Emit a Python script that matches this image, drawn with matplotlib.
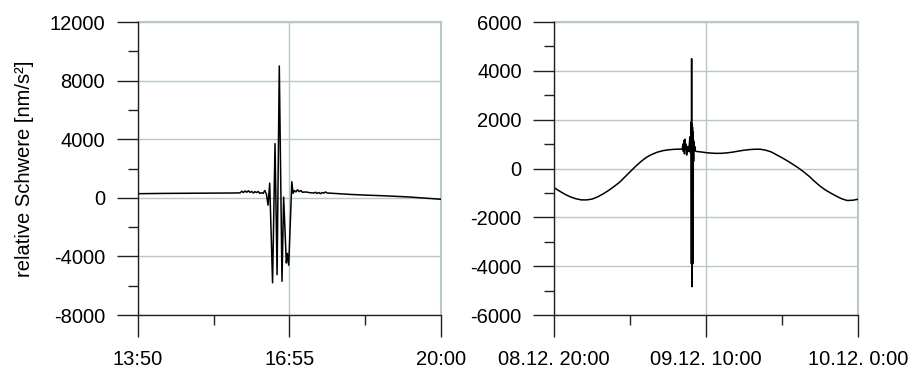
import matplotlib
matplotlib.use("Agg")
import matplotlib.pyplot as plt
from matplotlib.ticker import FixedLocator, MultipleLocator

plt.rcParams['font.family'] = ['Liberation Sans', 'DejaVu Sans']
plt.rcParams['axes.unicode_minus'] = False

# ---- Left panel: earthquake record, minutes after 13:50 ----
left_minutes = [0, 30, 60, 90, 120, 125, 127, 129, 131, 133, 135, 137, 139, 141,
                143, 145, 147, 149, 151, 153, 155, 157, 159, 161, 164.5, 167.5,
                170, 172.7, 176, 178, 181.3, 182.5, 184.2, 188, 189.5, 191, 193,
                195, 197, 199, 201, 205, 210, 215, 217, 219, 221, 223, 225, 227,
                229, 231, 240, 260, 280, 300, 330, 370]
left_values = [280, 300, 310, 320, 330, 340, 450, 360, 470, 380, 480, 370, 440, 330,
               420, 360, 430, 300, 350, 300, 500, 250, -500, 1000, -5800, 3700,
               -5250, 9000, -5700, 50, -4450, -3800, -4600, 1100, 300, 500, 400,
               550, 420, 500, 380, 400, 350, 330, 380, 300, 360, 280, 360, 320,
               400, 330, 300, 230, 180, 140, 60, -100]
left_xticks = [0, 185, 370]
left_xlabels = ['13:50', '16:55', '20:00']

# ---- Right panel: tidal record, hours after 08.12. 20:00 ----
right_hours = [0, 0.5, 1, 1.5, 2, 2.5, 3, 3.5, 4, 4.5, 5, 5.5, 6, 6.5, 7, 7.5, 8,
               8.5, 9, 9.5, 10, 10.5, 11, 11.5, 11.8, 11.85, 11.9, 11.95, 12.0,
               12.05, 12.1, 12.15, 12.2, 12.3, 12.4, 12.5, 12.55, 12.6, 12.62,
               12.64, 12.66, 12.68, 12.70, 12.72, 12.74, 12.76, 12.78, 12.80,
               12.82, 12.84, 12.86, 12.9, 12.95, 13.0, 13.1, 13.3, 13.5, 14, 14.5,
               15, 15.5, 16, 16.5, 17, 17.5, 18, 18.5, 19, 19.5, 20, 20.5, 21,
               21.5, 22, 22.5, 23, 23.5, 24, 24.5, 25, 25.5, 26, 26.5, 27, 27.5, 28]
right_values = [-790, -930, -1060, -1165, -1240, -1285, -1285, -1250, -1160, -1040,
                -900, -740, -570, -350, -130, 90, 290, 460, 580, 670, 730, 765, 785,
                795, 790, 1000, 700, 1150, 600, 1200, 800, 1000, 550, 900, 700, 1300,
                650, 1800, 1900, -3900, 4500, -4840, 1800, -4000, 1700, -3900, 1500,
                -3000, 1200, 300, 1100, 750, 900, 720, 700, 690, 680, 650, 630, 620,
                625, 645, 675, 715, 750, 775, 790, 790, 750, 680, 560, 440, 310, 170,
                25, -140, -320, -530, -720, -880, -1010, -1130, -1240, -1310, -1300,
                -1260]
right_xticks = [0, 14, 28]
right_xlabels = ['08.12. 20:00', '09.12. 10:00', '10.12. 0:00']

GRID = '#b8c8c8'
FS = 14.5

fig = plt.figure(figsize=(9.15, 3.72), dpi=100)
ax1 = fig.add_axes([0.1505, 0.1532, 0.3315, 0.7876])
ax2 = fig.add_axes([0.6058, 0.1532, 0.3319, 0.7876])


def style(ax, xticks, xlabels, xminor, ylim, ymajor, yminor):
    ax.set_xlim(xticks[0], xticks[-1])
    ax.set_ylim(*ylim)
    ax.xaxis.set_major_locator(FixedLocator(xticks))
    ax.set_xticklabels(xlabels)
    ax.xaxis.set_minor_locator(FixedLocator(xminor))
    ax.yaxis.set_major_locator(MultipleLocator(ymajor))
    ax.yaxis.set_minor_locator(MultipleLocator(yminor))
    for s in ('top', 'right'):
        ax.spines[s].set_visible(False)
    for s in ('left', 'bottom'):
        ax.spines[s].set_linewidth(1.0)
        ax.spines[s].set_color('#202020')
    ax.tick_params(axis='y', which='major', direction='out', length=15, width=1.0,
                   pad=8.5, labelsize=FS, color='#202020')
    ax.tick_params(axis='y', which='minor', direction='out', length=7.5, width=1.0,
                   color='#202020')
    ax.tick_params(axis='x', which='major', direction='out', length=15.5, width=1.0,
                   pad=10, labelsize=FS, color='#202020')
    ax.tick_params(axis='x', which='minor', direction='out', length=7.5, width=1.0,
                   color='#202020')
    ax.grid(True, which='major', color=GRID, linewidth=1.0)
    ax.set_axisbelow(True)
    # grid line along the top and right edges
    ax.axhline(ylim[1], color=GRID, linewidth=1.5, zorder=0.5, clip_on=False)
    ax.axvline(xticks[-1], color=GRID, linewidth=1.5, zorder=0.5, clip_on=False)


ax1.plot(left_minutes, left_values, color='black', linewidth=1.1)
style(ax1, left_xticks, left_xlabels, [92.5, 277.5], (-8000, 12000), 4000, 2000)
ax1.set_ylabel('relative Schwere [nm/s²]', fontsize=FS, labelpad=11)

ax2.plot(right_hours, right_values, color='black', linewidth=1.1)
style(ax2, right_xticks, right_xlabels, [7, 21], (-6000, 6000), 2000, 1000)

fig.savefig('out.png', dpi=100)
